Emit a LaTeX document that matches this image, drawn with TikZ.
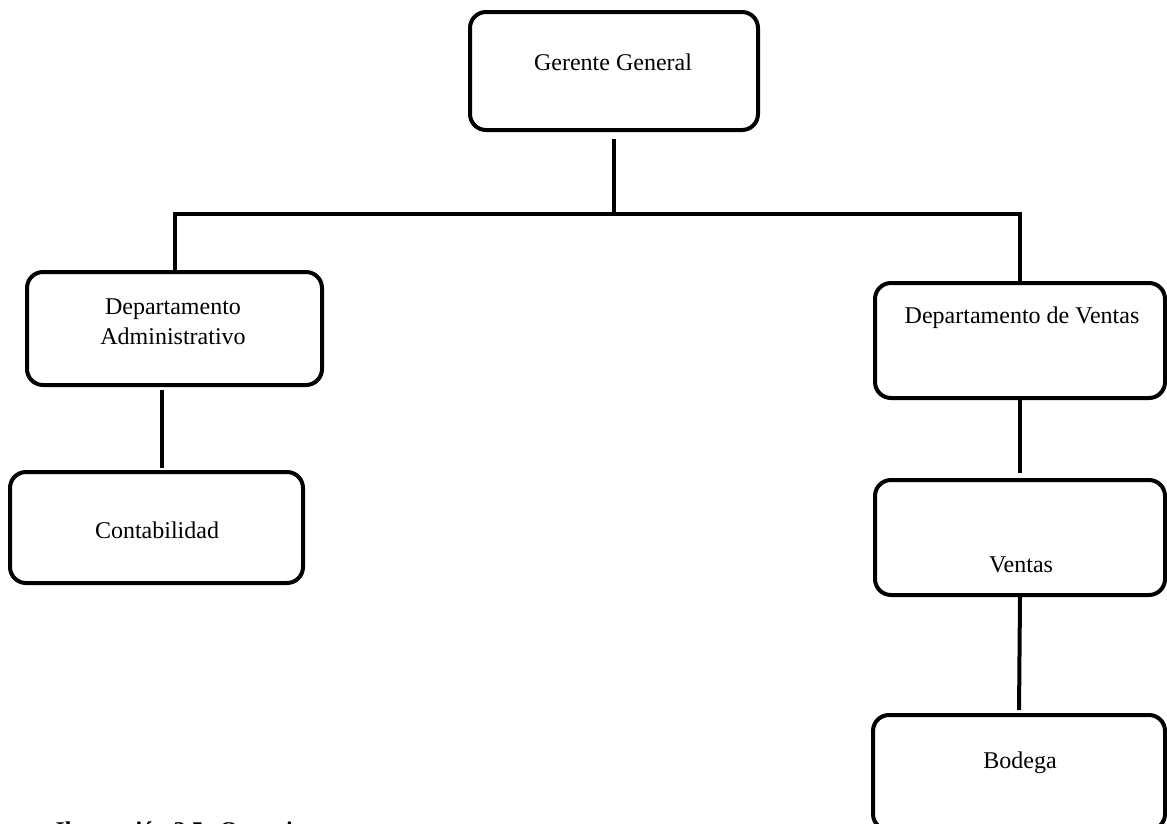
\documentclass[tikz,border=0pt]{standalone}
\usepackage{fontspec}
\setmainfont{Liberation Serif}
\usepackage{tikz}
\usetikzlibrary{calc}
\tikzset{>=latex}
\def\lw{4pt}
\tikzset{
    orgbox/.style={draw=black, line width=\lw, rounded corners=16pt, fill=white, inner sep=0pt},
    orgtext/.style={anchor=base, align=center, font=\fontsize{24}{30}\selectfont},
    orgline/.style={line width=\lw, black}
}

\begin{document}
\begin{tikzpicture}[x=1pt, y=-1pt]

    \useasboundingbox (0,0) rectangle (1167,823);

    % Boxes
    \node[orgbox, minimum width=288pt, minimum height=118pt] (gg)   at (614,71)    {};
    \node[orgbox, minimum width=295pt, minimum height=113pt] (adm)  at (174.5,328.5) {};
    \node[orgbox, minimum width=293pt, minimum height=111pt] (cont) at (156.5,527.5) {};
    \node[orgbox, minimum width=290pt, minimum height=115pt] (dv)   at (1020,340.5) {};
    \node[orgbox, minimum width=290pt, minimum height=115pt] (ven)  at (1020,537.5) {};
    \node[orgbox, minimum width=292pt, minimum height=115pt] (bod)  at (1019,772.5) {};

    % Texts
    \node[orgtext] (ggtext)   at (613,70)   {Gerente General};
    \node[orgtext, anchor=north] (admtext) at (173,295) {Departamento\\Administrativo};
    \node[orgtext] (conttext) at (157,538)  {Contabilidad};
    \node[orgtext] (dvtext)   at (1022,323) {Departamento de Ventas};
    \node[orgtext] (ventext)  at (1021,572) {Ventas};
    \node[orgtext] (bodtext)  at (1020,768) {Bodega};

    % Connectors
    \coordinate (bar) at (614,214);
    \coordinate (admx) at (162,0);
    \draw[orgline, shorten <=7pt] (gg.south) -- (bar);
    \draw[orgline] (adm.north) |- (bar) -| (dv.north);
    \draw[orgline, shorten <=3pt, shorten >=2pt] (adm.south -| admx) -- (cont.north -| admx);
    \draw[orgline, shorten >=5pt] (dv.south) -- (ven.north);
    \draw[orgline, shorten >=3pt] (ven.south) -- (bod.north);

    % Caption (cut off at the page edge)
    \node[anchor=base west, font=\bfseries\fontsize{24}{30}\selectfont] (caption) at (52,838) {Ilustración 3.5: Organigrama};

\end{tikzpicture}
\end{document}
